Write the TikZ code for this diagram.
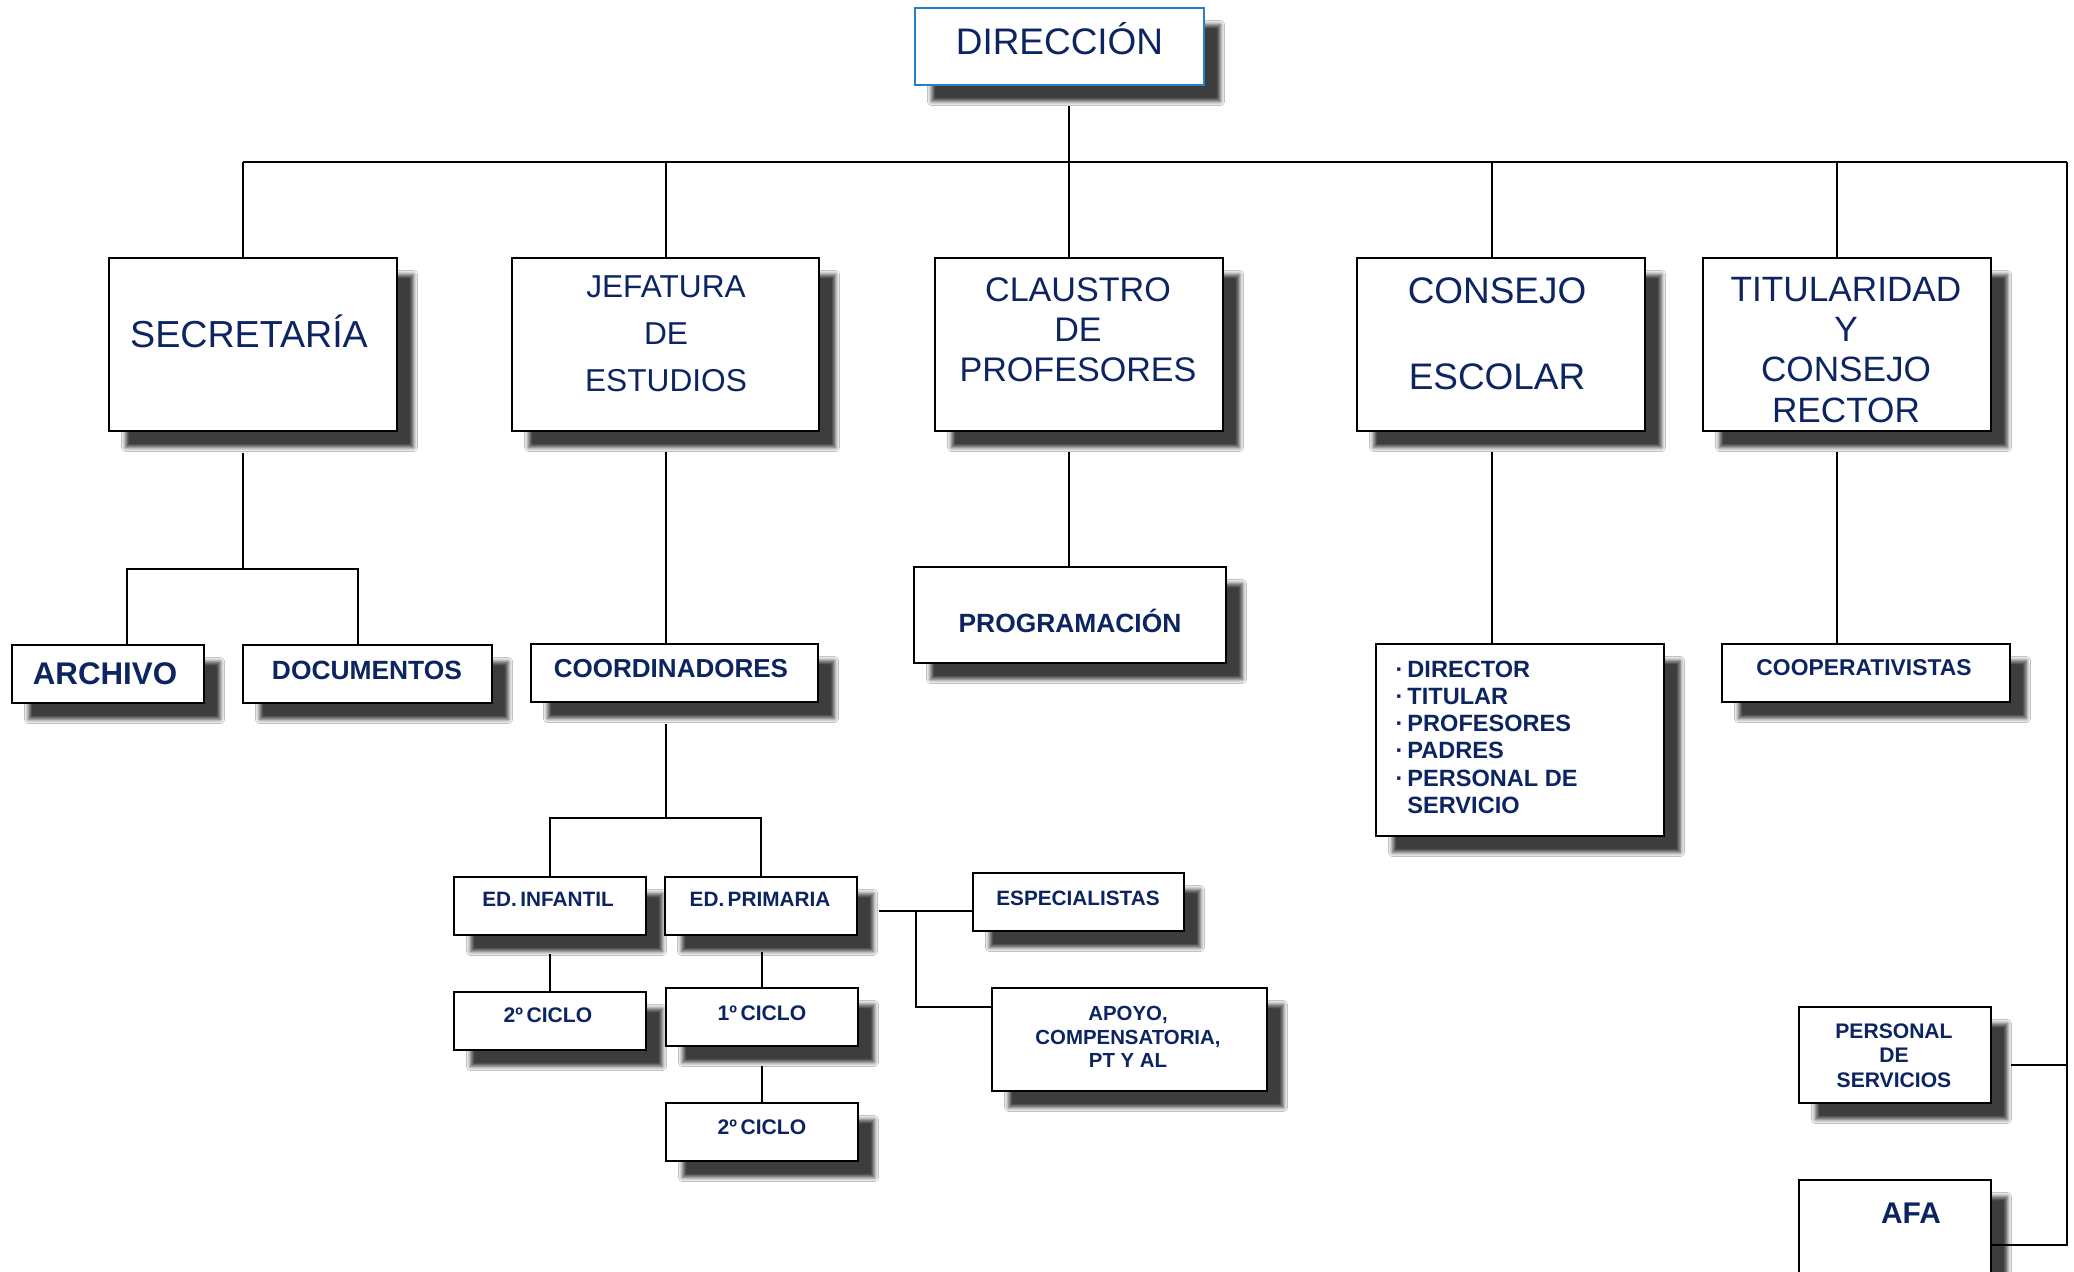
\documentclass[tikz,border=0pt]{standalone}
\usepackage{fontspec}
\setmainfont{Liberation Sans}
\usetikzlibrary{shadows,shadows.blur,calc,backgrounds}
\definecolor{navy}{RGB}{12,36,97}
\definecolor{dirblue}{RGB}{36,128,205}
\tikzset{
  sh/.style={blur shadow={shadow xshift=0.165cm, shadow yshift=-0.165cm, shadow blur radius=0.04cm, shadow blur steps=6, shadow blur extra rounding=0pt, shadow opacity=76}},
  topbox/.style={draw=black, line width=0.45pt, fill=white, sh, inner sep=0pt},
  subbox/.style={draw=black, line width=0.65pt, fill=white, sh, inner sep=0pt},
  thinbox/.style={subbox, line width=0.5pt},
  conn/.style={draw=black, line width=0.55pt},
  lbl/.style={text=navy, inner sep=0pt, align=center},
}
\newcommand{\fs}[2]{\fontsize{#1}{#2}\selectfont}
\begin{document}
\begin{tikzpicture}[x=0.01cm, y=-0.01cm]
\useasboundingbox (0,0) rectangle (2074,1272);
\clip (0,0) rectangle (2074,1272);

% junction coordinates
\coordinate (bL) at (243,162);
\coordinate (bJ) at (666,162);
\coordinate (bD) at (1069,162);
\coordinate (bC) at (1492,162);
\coordinate (bT) at (1837,162);
\coordinate (bR) at (2067,162);
\coordinate (pR) at (2067,1065);
\coordinate (sM) at (243,569);
\coordinate (sA) at (127,569);
\coordinate (sD) at (358,569);
\coordinate (kM) at (666,818);
\coordinate (e1) at (916,911);
\coordinate (e2) at (916,1007);

% top row boxes
\node[topbox, draw=dirblue, line width=0.5pt, minimum width=2.89cm, minimum height=0.77cm] (dir) at (1059.5,46.5) {};
\node[topbox, minimum width=2.88cm, minimum height=1.73cm] (sec) at (253,344.5) {};
\node[topbox, minimum width=3.07cm, minimum height=1.73cm] (jef) at (665.5,344.5) {};
\node[topbox, minimum width=2.88cm, minimum height=1.73cm] (cla) at (1079,344.5) {};
\node[topbox, minimum width=2.88cm, minimum height=1.73cm] (con) at (1501,344.5) {};
\node[topbox, minimum width=2.88cm, minimum height=1.73cm] (tit) at (1847,344.5) {};

% lower boxes
\node[subbox, minimum width=1.92cm, minimum height=0.58cm] (arc) at (108,674) {};
\node[subbox, minimum width=2.49cm, minimum height=0.58cm] (doc) at (367.5,674) {};
\node[subbox, minimum width=2.87cm, minimum height=0.58cm] (coo) at (674.5,673) {};
\node[subbox, minimum width=3.12cm, minimum height=0.96cm] (pro) at (1070,615) {};
\node[subbox, minimum width=2.88cm, minimum height=1.92cm] (lst) at (1520,740) {};
\node[subbox, minimum width=2.88cm, minimum height=0.58cm] (cop) at (1866,673) {};
\node[subbox, minimum width=1.92cm, minimum height=0.58cm] (inf) at (550,906) {};
\node[subbox, minimum width=1.92cm, minimum height=0.58cm] (pri) at (761,906) {};
\node[thinbox, minimum width=2.11cm, minimum height=0.58cm] (esp) at (1078.5,902) {};
\node[thinbox, minimum width=2.75cm, minimum height=1.03cm] (apo) at (1129.5,1039.5) {};
\node[subbox, minimum width=1.92cm, minimum height=0.58cm] (c2i) at (550,1021) {};
\node[thinbox, minimum width=1.92cm, minimum height=0.58cm] (c1p) at (762,1017) {};
\node[thinbox, minimum width=1.92cm, minimum height=0.58cm] (c2p) at (762,1132) {};
\node[thinbox, minimum width=1.92cm, minimum height=0.96cm] (per) at (1895,1055) {};
\node[thinbox, minimum width=1.92cm, minimum height=1.30cm] (afa) at (1895,1245) {};

% connectors behind the boxes; those leaving a box bottom/right start below its shadow
\begin{scope}[on background layer]
\fill[white] (0,0) rectangle (2074,1272);
\draw[conn] (bL) -- (bR);
\draw[conn] (bL) -- (bL |- sec.north);
\draw[conn] (bJ) -- (bJ |- jef.north);
\draw[conn] ($(dir.south -| bD)+(0,20)$) -- (bD |- cla.north);
\draw[conn] (bC) -- (bC |- con.north);
\draw[conn] (bT) -- (bT |- tit.north);
\draw[conn] ($(sec.south -| sM)+(0,21)$) -- (sM);
\draw[conn] (arc.north -| sA) -- (sA) -- (sD) -- (doc.north -| sD);
\draw[conn] ($(jef.south -| bJ)+(0,20)$) -- (coo.north -| bJ);
\draw[conn] ($(coo.south -| kM)+(0,21)$) -- (kM);
\draw[conn] (inf.north) -- (inf.north |- kM) -- (pri.north |- kM) -- (pri.north);
\draw[conn] ($(inf.south)+(0,18)$) -- (c2i.north);
\draw[conn] ($(c1p.north |- pri.south)+(0,16)$) -- (c1p.north);
\draw[conn] ($(c1p.south)+(0,19)$) -- (c2p.north);
\draw[conn] ($(pri.east |- e1)+(21,0)$) -- (esp.west |- e1);
\draw[conn] (e1) -- (e2) -- (apo.west |- e2);
\draw[conn] ($(cla.south -| bD)+(0,20)$) -- (pro.north -| bD);
\draw[conn] ($(con.south -| bC)+(0,20)$) -- (lst.north -| bC);
\draw[conn] ($(tit.south -| bT)+(0,20)$) -- (cop.north -| bT);
\draw[conn] (bR) -- (bR |- afa.east) -- (afa.east);
\draw[conn] ($(per.east |- pR)+(19,0)$) -- (pR);
\end{scope}

% texts
\node[lbl, anchor=base, font=\fs{10.5}{12}] (dirT) at (1059.5,54) {DIRECCIÓN};
\node[lbl, anchor=base, font=\fs{10.7}{12}] (secT) at (249,347) {SECRETARÍA};
\node[lbl, font=\fs{9}{13.4}] (jefT) at (666,333.5) {JEFATURA\\DE\\ESTUDIOS};
\node[lbl, font=\fs{9.7}{11.4}] (claT) at (1078,329.5) {CLAUSTRO\\DE\\PROFESORES};
\node[lbl, font=\fs{10.5}{24.5}] (conT) at (1497,333.5) {CONSEJO\\ESCOLAR};
\node[lbl, font=\fs{10}{11.4}] (titT) at (1846,350) {TITULARIDAD\\Y\\CONSEJO\\RECTOR};

\node[lbl, anchor=base, font=\bfseries\fs{8.9}{10}] (arcT) at (105,684) {ARCHIVO};
\node[lbl, anchor=base, font=\bfseries\fs{7.5}{9}] (docT) at (367,679) {DOCUMENTOS};
\node[lbl, anchor=base, font=\bfseries\fs{7.4}{9}] (cooT) at (671,677) {COORDINADORES};
\node[lbl, anchor=base, font=\bfseries\fs{7.5}{9}] (proT) at (1070,632) {PROGRAMACIÓN};
\node[lbl, align=left, anchor=north west, font=\bfseries\fs{6.7}{7.74}] (lstT) at (1395,660)
  {·\,DIRECTOR\\·\,TITULAR\\·\,PROFESORES\\·\,PADRES\\·\,PERSONAL DE\\\phantom{·\,}SERVICIO};
\node[lbl, anchor=base, font=\bfseries\fs{6.5}{8}] (copT) at (1864,675) {COOPERATIVISTAS};
\node[lbl, anchor=base, font=\bfseries\fs{5.9}{7}] (infT) at (548,906) {ED.\,INFANTIL};
\node[lbl, anchor=base, font=\bfseries\fs{5.9}{7}] (priT) at (760,906) {ED.\,PRIMARIA};
\node[lbl, anchor=base, font=\bfseries\fs{5.9}{7}] (espT) at (1078,905) {ESPECIALISTAS};
\node[lbl, font=\bfseries\fs{5.8}{6.7}] (apoT) at (1128,1037) {APOYO,\\COMPENSATORIA,\\PT Y AL};
\node[lbl, anchor=base, font=\bfseries\fs{6}{7}] (c2iT) at (548,1022) {2º\,CICLO};
\node[lbl, anchor=base, font=\bfseries\fs{6}{7}] (c1pT) at (762,1020) {1º\,CICLO};
\node[lbl, anchor=base, font=\bfseries\fs{6}{7}] (c2pT) at (762,1134) {2º\,CICLO};
\node[lbl, font=\bfseries\fs{6}{7}] (perT) at (1894,1055.5) {PERSONAL\\DE\\SERVICIOS};
\node[lbl, anchor=base, font=\bfseries\fs{8.5}{10}] (afaT) at (1911,1223) {AFA};
\end{tikzpicture}
\end{document}
